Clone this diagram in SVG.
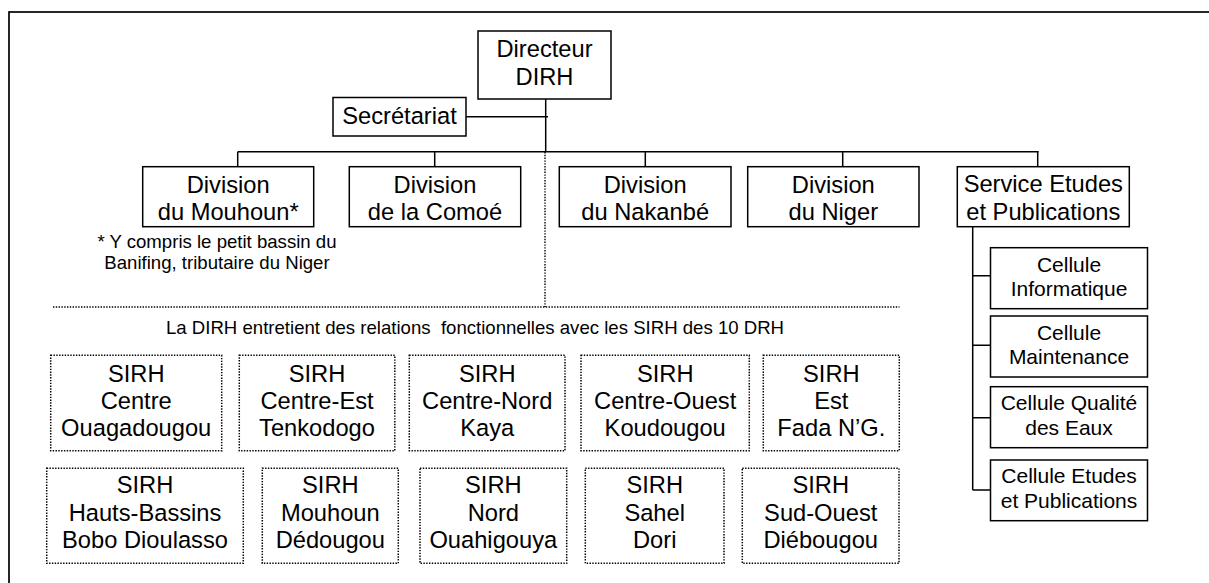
<svg xmlns="http://www.w3.org/2000/svg" width="1209" height="583" viewBox="0 0 1209 583">
<style>
text{font-family:"Liberation Sans",Arial,sans-serif;fill:#000;text-anchor:middle}
.t{font-size:23.7px}
.c{font-size:21px}
.s{font-size:18.6px}
.box{fill:#fff;stroke:#000;stroke-width:1.5}
.dbox{fill:#fff;stroke:#000;stroke-width:1.5;stroke-dasharray:1.4 1.4}
.ln{fill:none;stroke:#000;stroke-width:1.5}
.dl{fill:none;stroke:#000;stroke-width:1.4;stroke-dasharray:1.4 1.4}
</style>
<rect x="9" y="12" width="1215" height="590" fill="none" stroke="#000" stroke-width="1.7"/>
<g id="connectors">
<path class="ln" d="M545.7 99V151.7M466 116.7H548M237.7 151.7H1038.7M237.7 151.7V166.7M434.7 151.7V166.7M645.3 151.7V166.7M842.7 151.7V166.7M1037.7 151.7V166.7"/>
<path class="ln" d="M972.7 226.7V490M972.7 275.7H990.5M972.7 345.3H990.5M972.7 417.7H990.5M972.7 490H990.5"/>
<path class="dl" d="M545 152V307M53 307H899.5"/>
</g>
<g id="directeur"><rect class="box" x="478" y="31" width="133" height="68"/><text class="t" x="544.5" y="57">Directeur</text><text class="t" x="544.5" y="85">DIRH</text></g>
<g id="secretariat"><rect class="box" x="333" y="97.5" width="133" height="38.5"/><text class="t" x="399.5" y="124">Secrétariat</text></g>
<g id="div-mouhoun"><rect class="box" x="142.7" y="166.7" width="171" height="60"/><text class="t" x="228.2" y="192.7">Division</text><text class="t" x="228.2" y="220">du Mouhoun*</text></g>
<g id="footnote"><text class="s" x="217" y="248.3">* Y compris le petit bassin du</text><text class="s" x="217" y="269.3">Banifing, tributaire du Niger</text></g>
<g id="div-comoe"><rect class="box" x="349.3" y="166.7" width="171.4" height="60"/><text class="t" x="435" y="192.7">Division</text><text class="t" x="435" y="220">de la Comoé</text></g>
<g id="div-nakanbe"><rect class="box" x="559.3" y="166.7" width="171.7" height="60"/><text class="t" x="645.2" y="192.7">Division</text><text class="t" x="645.2" y="220">du Nakanbé</text></g>
<g id="div-niger"><rect class="box" x="747.7" y="166.7" width="171.3" height="60"/><text class="t" x="833.3" y="192.7">Division</text><text class="t" x="833.3" y="220">du Niger</text></g>
<g id="service"><rect class="box" x="957.3" y="166.7" width="172" height="60"/><text class="t" x="1043.3" y="191.7">Service Etudes</text><text class="t" x="1043.3" y="220">et Publications</text></g>
<g id="cel-info"><rect class="box" x="990.5" y="247.7" width="157" height="61"/><text class="c" x="1069" y="271.5">Cellule</text><text class="c" x="1069" y="296">Informatique</text></g>
<g id="cel-maint"><rect class="box" x="990.5" y="316" width="157" height="61"/><text class="c" x="1069" y="340">Cellule</text><text class="c" x="1069" y="364">Maintenance</text></g>
<g id="cel-qual"><rect class="box" x="990.5" y="386.7" width="157" height="61"/><text class="c" x="1069" y="410">Cellule Qualité</text><text class="c" x="1069" y="434.5">des Eaux</text></g>
<g id="cel-etudes"><rect class="box" x="990.5" y="460" width="157" height="60.7"/><text class="c" x="1069" y="483">Cellule Etudes</text><text class="c" x="1069" y="507.5">et Publications</text></g>
<g id="relations"><text class="s" x="475" y="334" xml:space="preserve">La DIRH entretient des relations  fonctionnelles avec les SIRH des 10 DRH</text></g>
<g id="sirh-centre"><rect class="dbox" x="50.7" y="355.3" width="171" height="95.4"/><text class="t" x="136.2" y="381.7">SIRH</text><text class="t" x="136.2" y="409">Centre</text><text class="t" x="136.2" y="436.3">Ouagadougou</text></g>
<g id="sirh-centre-est"><rect class="dbox" x="239.3" y="355.3" width="155.5" height="95.4"/><text class="t" x="317" y="381.7">SIRH</text><text class="t" x="317" y="409">Centre-Est</text><text class="t" x="317" y="436.3">Tenkodogo</text></g>
<g id="sirh-centre-nord"><rect class="dbox" x="409.3" y="355.3" width="155.7" height="95.4"/><text class="t" x="487.2" y="381.7">SIRH</text><text class="t" x="487.2" y="409">Centre-Nord</text><text class="t" x="487.2" y="436.3">Kaya</text></g>
<g id="sirh-centre-ouest"><rect class="dbox" x="581" y="355.3" width="168.3" height="95.4"/><text class="t" x="665.2" y="381.7">SIRH</text><text class="t" x="665.2" y="409">Centre-Ouest</text><text class="t" x="665.2" y="436.3">Koudougou</text></g>
<g id="sirh-est"><rect class="dbox" x="763.3" y="355.3" width="136" height="95.4"/><text class="t" x="831.3" y="381.7">SIRH</text><text class="t" x="831.3" y="409">Est</text><text class="t" x="831.3" y="436.3">Fada N’G.</text></g>
<g id="sirh-hauts-bassins"><rect class="dbox" x="46.7" y="468.3" width="196.6" height="95"/><text class="t" x="145" y="493.3">SIRH</text><text class="t" x="145" y="520.7">Hauts-Bassins</text><text class="t" x="145" y="548">Bobo Dioulasso</text></g>
<g id="sirh-mouhoun"><rect class="dbox" x="262.3" y="468.3" width="136" height="95"/><text class="t" x="330.3" y="493.3">SIRH</text><text class="t" x="330.3" y="520.7">Mouhoun</text><text class="t" x="330.3" y="548">Dédougou</text></g>
<g id="sirh-nord"><rect class="dbox" x="420" y="468.3" width="146.7" height="95"/><text class="t" x="493.3" y="493.3">SIRH</text><text class="t" x="493.3" y="520.7">Nord</text><text class="t" x="493.3" y="548">Ouahigouya</text></g>
<g id="sirh-sahel"><rect class="dbox" x="585.3" y="468.3" width="138.7" height="95"/><text class="t" x="654.7" y="493.3">SIRH</text><text class="t" x="654.7" y="520.7">Sahel</text><text class="t" x="654.7" y="548">Dori</text></g>
<g id="sirh-sud-ouest"><rect class="dbox" x="742.3" y="468.3" width="156.7" height="95"/><text class="t" x="820.7" y="493.3">SIRH</text><text class="t" x="820.7" y="520.7">Sud-Ouest</text><text class="t" x="820.7" y="548">Diébougou</text></g>
</svg>
